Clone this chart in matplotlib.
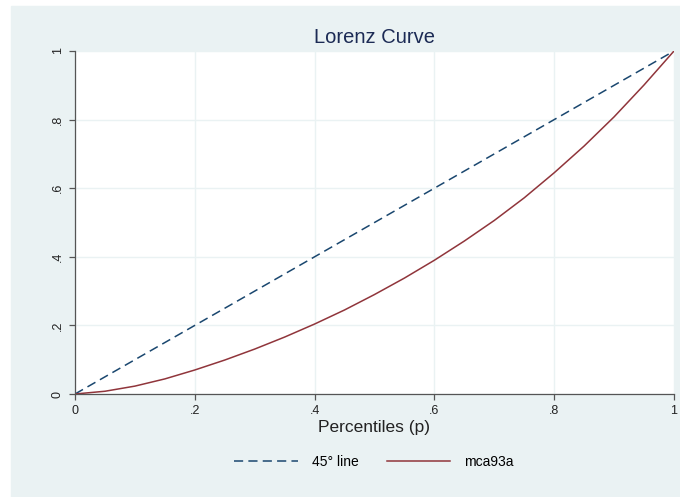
import matplotlib.pyplot as plt
from matplotlib.patches import Rectangle

plt.rcParams['font.family'] = ['Liberation Sans', 'DejaVu Sans']

# data
pctl = [0, .05, .10, .15, .20, .25, .30, .35, .40, .45, .50,
        .55, .60, .65, .70, .75, .80, .85, .90, .95, 1.0]
lorenz = [0, .008, .023, .044, .070, .099, .131, .166, .204, .245, .290,
          .338, .390, .446, .506, .572, .645, .723, .808, .901, 1.0]
diag = [0, 1]
ticks = [0, .2, .4, .6, .8, 1]
tick_labels = ['0', '.2', '.4', '.6', '.8', '1']

bg = '#eaf2f3'
navy = '#1a476f'
maroon = '#90353b'

fig = plt.figure(figsize=(6.8, 4.97), dpi=100, facecolor='white')
# light panel behind everything, white strip at top and left
fig.add_artist(Rectangle((11 / 680, 0), 1, (497 - 6) / 497,
                         transform=fig.transFigure, color=bg, zorder=-10))

ax = fig.add_axes([75 / 680, (497 - 394) / 497, 599 / 680, 343 / 497])
ax.set_facecolor('white')

ax.plot(diag, diag, color=navy, lw=1.1, dashes=(6, 3.4), label='45° line')
ax.plot(pctl, lorenz, color=maroon, lw=1.1, label='mca93a')

ax.set_xlim(0, 1)
ax.set_ylim(0, 1)
ax.set_xticks(ticks)
ax.set_xticklabels(tick_labels)
ax.set_yticks(ticks)
ax.set_yticklabels(tick_labels, rotation=90, va='center')
ax.grid(True, color=bg, lw=1)
ax.set_axisbelow(True)

for s in ['top', 'right']:
    ax.spines[s].set_visible(False)
for s in ['left', 'bottom']:
    ax.spines[s].set_color('#555555')
    ax.spines[s].set_linewidth(0.9)
ax.tick_params(direction='out', length=4, width=0.9, color='#555555',
               labelsize=9, labelcolor='#222222', pad=4)

ax.set_title('Lorenz Curve', fontsize=14.5, color='#1c2b55', pad=6)
ax.set_xlabel('Percentiles (p)', fontsize=12.5, color='#222222', labelpad=2)

fig.legend(loc='center', bbox_to_anchor=(374 / 680, (497 - 462) / 497),
           ncol=2, frameon=False, fontsize=10, handlelength=4.6,
           columnspacing=2.0, handletextpad=1.0)

fig.savefig('out.png', dpi=100, facecolor=fig.get_facecolor())
